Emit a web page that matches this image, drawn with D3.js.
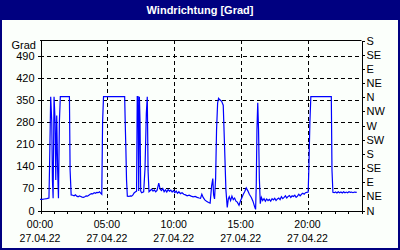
<!DOCTYPE html>
<html>
<head>
<meta charset="utf-8">
<script src="https://cdn.jsdelivr.net/npm/d3@7"></script>
<style>
  body { margin: 0; background: #fbfffb; }
  svg { display: block; }
  .axis text { font-family: "Liberation Sans", Arial, sans-serif; fill: #000; }
  .axis path, .axis line { stroke: #000; shape-rendering: crispEdges; }
</style>
</head>
<body>
<svg id="chart" width="400" height="250"></svg>
<script>
// hour of day (27.04.22) and wind direction in degrees
var hours = [
  0.00, 0.17, 0.33, 0.50, 0.67, 0.72, 0.80, 0.88, 0.93, 0.98,
  1.05, 1.13, 1.18, 1.25, 1.32, 1.38, 1.45, 1.52, 2.20, 2.25,
  2.33, 2.45, 2.55, 2.65, 2.75, 2.85, 2.95, 3.05, 3.15, 3.25,
  3.35, 3.45, 3.55, 3.65, 3.75, 3.85, 3.95, 4.05, 4.15, 4.25,
  4.35, 4.45, 4.55, 4.62, 4.68, 4.75, 6.33, 6.37, 6.42, 6.47,
  6.53, 6.65, 6.75, 6.85, 6.95, 7.05, 7.15, 7.22, 7.27, 7.33,
  7.38, 7.43, 7.48, 7.53, 7.60, 7.75, 7.85, 7.95, 8.02, 8.08,
  8.15, 8.25, 8.35, 8.45, 8.55, 8.65, 8.75, 8.88, 8.98, 9.08,
  9.18, 9.28, 9.38, 9.48, 9.58, 9.68, 9.78, 9.88, 9.98, 10.08,
  10.18, 10.28, 10.38, 10.50, 10.62, 10.75, 10.88, 11.00, 11.15, 11.30,
  11.45, 11.60, 11.75, 11.90, 12.00, 12.10, 12.20, 12.32, 12.45, 12.60,
  12.72, 12.83, 12.92, 12.98, 13.05, 13.13, 13.20, 13.28, 13.35, 13.45,
  13.58, 13.70, 13.80, 13.90, 14.00, 14.08, 14.15, 14.25, 14.35, 14.45,
  14.55, 14.65, 14.75, 14.88, 15.00, 15.10, 15.20, 15.30, 15.42, 15.55,
  15.65, 15.80, 15.92, 16.05, 16.12, 16.17, 16.22, 16.28, 16.34, 16.40,
  16.47, 16.55, 16.65, 16.75, 16.85, 16.95, 17.05, 17.15, 17.25, 17.35,
  17.45, 17.55, 17.65, 17.75, 17.85, 17.95, 18.05, 18.15, 18.25, 18.35,
  18.45, 18.55, 18.65, 18.75, 18.85, 18.95, 19.05, 19.15, 19.25, 19.35,
  19.45, 19.55, 19.65, 19.75, 19.85, 19.95, 20.05, 20.10, 20.18, 20.25,
  21.78, 21.83, 21.90, 22.00, 22.10, 22.20, 22.30, 22.40, 22.50, 22.60,
  22.70, 22.80, 22.90, 23.00, 23.10, 23.20, 23.30, 23.40, 23.50, 23.68
];
var direction = [
  34, 34, 35, 36, 38, 150, 360, 280, 95, 37,
  360, 280, 95, 300, 125, 37, 280, 360, 360, 127,
  48, 47, 45, 48, 44, 42, 45, 43, 41, 40,
  42, 45, 44, 47, 50, 52, 51, 55, 53, 56,
  55, 58, 53, 50, 280, 360, 360, 280, 196, 95,
  44, 43, 45, 44, 48, 55, 58, 60, 360, 360,
  60, 360, 280, 60, 55, 58, 130, 307, 360, 125,
  58, 62, 66, 60, 64, 58, 62, 85, 66, 62,
  68, 58, 64, 57, 65, 60, 63, 57, 62, 55,
  60, 53, 58, 52, 55, 50, 48, 45, 47, 44,
  42, 43, 40, 38, 37, 50, 40, 32, 28, 24,
  22, 76, 100, 48, 35, 100, 254, 340, 355, 350,
  345, 333, 201, 64, 8, 35, 42, 30, 44, 33,
  38, 28, 25, 15, 30, 40, 50, 58, 70, 60,
  50, 40, 28, 10, 2, 82, 254, 341, 254, 100,
  20, 40, 30, 36, 28, 35, 30, 34, 28, 36,
  32, 37, 30, 35, 38, 33, 42, 36, 40, 45,
  38, 43, 46, 40, 45, 43, 47, 40, 44, 50,
  45, 50, 53, 50, 55, 56, 57, 130, 280, 360,
  360, 127, 56, 55, 57, 54, 58, 55, 57, 54,
  58, 55, 57, 55, 58, 56, 57, 55, 57, 56
];
var leftTicks = [0, 70, 140, 210, 280, 350, 420, 490];
var rightTicks = [0, 45, 90, 135, 180, 225, 270, 315, 360, 405, 450, 495, 540];
var compass = ["N", "NE", "E", "SE", "S", "SW", "W", "NW", "N", "NE", "E", "SE", "S"];
var xLabelHours = [0, 5, 10, 15, 20];
var xTimeLabels = ["00:00", "05:00", "10:00", "15:00", "20:00"];
var dateLabel = "27.04.22";
var title = "Windrichtung [Grad]";
var unit = "Grad";

var W = 400, H = 250;
var plotL = 40, plotR = 361, plotT = 40, plotB = 210;

var svg = d3.select("#chart");

// frame + title bar
svg.append("rect").attr("x", 0).attr("y", 0).attr("width", W).attr("height", H).attr("fill", "#000080");
svg.append("rect").attr("x", 2).attr("y", 20).attr("width", W - 4).attr("height", H - 22).attr("fill", "#fbfffb");
svg.append("text")
  .attr("x", W / 2).attr("y", 14)
  .attr("text-anchor", "middle")
  .attr("font-family", "Liberation Sans, Arial, sans-serif")
  .attr("font-weight", "bold")
  .attr("font-size", 11)
  .attr("fill", "#fff")
  .text(title);

var x = d3.scaleLinear().domain([0, 24]).range([plotL, plotR]);
var y = d3.scaleLinear().domain([0, 540]).range([plotB, plotT]);

// grid
svg.append("g").selectAll("line")
  .data(leftTicks.slice(1))
  .enter().append("line")
  .attr("x1", plotL).attr("x2", plotR)
  .attr("y1", d => Math.round(y(d)) + 0.5).attr("y2", d => Math.round(y(d)) + 0.5)
  .attr("stroke", "#000").attr("stroke-dasharray", "4,3");
svg.append("g").selectAll("line")
  .data(xLabelHours.slice(1))
  .enter().append("line")
  .attr("y1", plotT).attr("y2", plotB)
  .attr("x1", d => Math.round(x(d)) + 0.5).attr("x2", d => Math.round(x(d)) + 0.5)
  .attr("stroke", "#000").attr("stroke-dasharray", "4,3");

// top border
svg.append("line")
  .attr("x1", plotL).attr("x2", plotR + 0.5)
  .attr("y1", plotT + 0.5).attr("y2", plotT + 0.5)
  .attr("stroke", "#000");

// axes
svg.append("g")
  .attr("class", "axis")
  .attr("transform", "translate(" + (plotL + 0.5) + ",0.5)")
  .call(d3.axisLeft(y).tickValues(leftTicks).tickSize(3).tickSizeOuter(0).tickPadding(3))
  .selectAll("text").attr("font-size", 11);

svg.append("text")
  .attr("x", plotL - 4).attr("y", 49)
  .attr("text-anchor", "end")
  .attr("font-family", "Liberation Sans, Arial, sans-serif")
  .attr("font-size", 11)
  .text(unit);

svg.append("g")
  .attr("class", "axis")
  .attr("transform", "translate(" + (plotR + 0.5) + ",0.5)")
  .call(d3.axisRight(y).tickValues(rightTicks).tickSize(3).tickSizeOuter(0).tickPadding(2)
    .tickFormat((d, i) => compass[i]))
  .selectAll("text").attr("font-size", 11);

var hourTicks = d3.range(0, 25);
svg.append("g")
  .attr("class", "axis")
  .attr("transform", "translate(0.5," + (plotB + 0.5) + ")")
  .call(d3.axisBottom(x).tickValues(hourTicks).tickSize(3).tickSizeOuter(0).tickFormat(""));

var xl = svg.append("g").attr("class", "axis");
xl.selectAll("text.time")
  .data(xLabelHours)
  .enter().append("text")
  .attr("class", "time")
  .attr("x", d => x(d)).attr("y", 228)
  .attr("text-anchor", "middle").attr("font-size", 10.5)
  .text((d, i) => xTimeLabels[i]);
xl.selectAll("text.date")
  .data(xLabelHours)
  .enter().append("text")
  .attr("class", "date")
  .attr("x", d => x(d)).attr("y", 242)
  .attr("text-anchor", "middle").attr("font-size", 10.5)
  .text(dateLabel);

// data line
var points = hours.map((h, i) => [h, direction[i]]);
var line = d3.line()
  .x(d => x(d[0]))
  .y(d => y(d[1]));
svg.append("path")
  .attr("d", line(points))
  .attr("fill", "none")
  .attr("stroke", "#0000ff")
  .attr("stroke-width", 1.2);
</script>
</body>
</html>
